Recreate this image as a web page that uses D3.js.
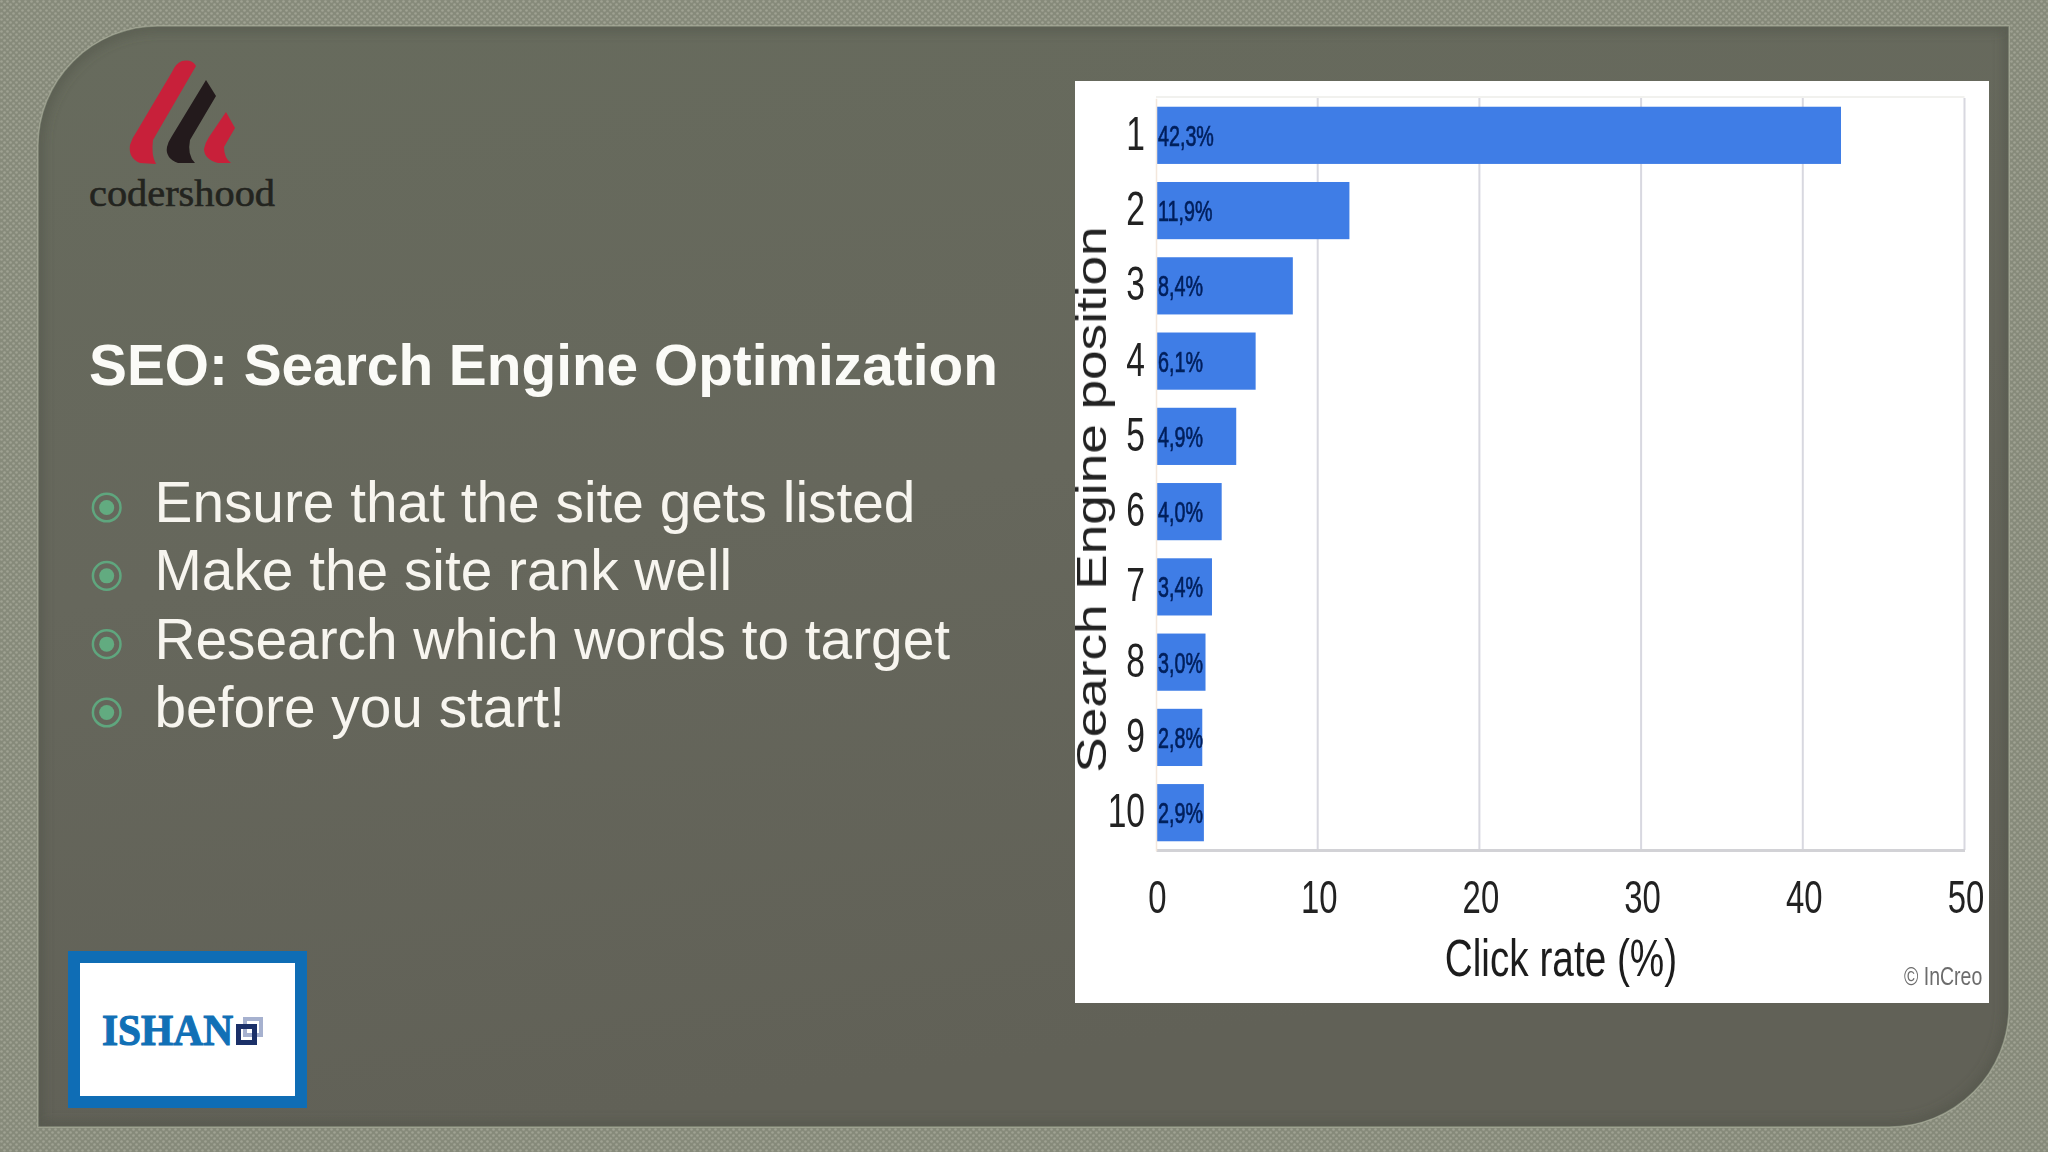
<!DOCTYPE html>
<html><head><meta charset="utf-8">
<script src="https://cdn.jsdelivr.net/npm/d3@7/dist/d3.min.js"></script>
<style>html,body{margin:0;padding:0;background:#8b8f80;overflow:hidden}svg{display:block}text{font-family:"Liberation Sans",Arial,sans-serif}</style>
</head><body><svg id="c" width="2048" height="1152"></svg>
<script>
const positions = ["1","2","3","4","5","6","7","8","9","10"];
const clickRates = [42.3,11.9,8.4,6.1,4.9,4.0,3.4,3.0,2.8,2.9];
const barLabels = ["42,3%","11,9%","8,4%","6,1%","4,9%","4,0%","3,4%","3,0%","2,8%","2,9%"];
const xTicks = [0,10,20,30,40,50];
const slideTitle = "SEO: Search Engine Optimization";
const bulletLines = ["Ensure that the site gets listed","Make the site rank well","Research which words to target","before you start!"];

const svg = d3.select("#c");
const defs = svg.append("defs");
const pat = defs.append("pattern").attr("id","dots").attr("width",6).attr("height",6).attr("patternUnits","userSpaceOnUse");
pat.append("rect").attr("width",6).attr("height",6).attr("fill","#868a7a");
pat.append("circle").attr("cx",1.5).attr("cy",1.5).attr("r",1.3).attr("fill","#9fa292");
pat.append("circle").attr("cx",4.5).attr("cy",4.5).attr("r",1.3).attr("fill","#9fa292");
const grad = defs.append("linearGradient").attr("id","panel").attr("x1",0).attr("y1",0).attr("x2",0.25).attr("y2",1);
grad.append("stop").attr("offset",0).attr("stop-color","#676b5d");
grad.append("stop").attr("offset",0.5).attr("stop-color","#66675c");
grad.append("stop").attr("offset",1).attr("stop-color","#616157");
defs.append("filter").attr("id","soft").append("feGaussianBlur").attr("stdDeviation",0.7);
defs.append("filter").attr("id","edge").append("feGaussianBlur").attr("stdDeviation",6);

svg.append("rect").attr("width",2048).attr("height",1152).attr("fill","url(#dots)");
const px0=38, py0=26, px1=2009, py1=1127, rad=120;
const panelPath = `M${px0},${py1}V${py0+rad}A${rad},${rad} 0 0 1 ${px0+rad},${py0}H${px1}V${py1-rad}A${rad},${rad} 0 0 1 ${px1-rad},${py1}Z`;
defs.append("clipPath").attr("id","pclip").append("path").attr("d",panelPath);
svg.append("path").attr("d",panelPath).attr("fill","url(#panel)").attr("stroke","#a5a997").attr("stroke-width",1.5);
svg.append("path").attr("d",panelPath).attr("fill","none").attr("stroke","#4d4f43").attr("stroke-opacity",0.55).attr("stroke-width",10)
  .attr("filter","url(#edge)").attr("clip-path","url(#pclip)");

// logo
const logo = svg.append("g");
logo.append("path").attr("fill","#c8203a").attr("d","M182,61 Q192,59 196,66 L153,140 Q151,155 156,164 L140,163 Q128,158 130,145 Q132,138 137,131 L172,72 Q176,63 182,61Z");
logo.append("path").attr("fill","#231a1c").attr("d","M206,80 L216,96 L190,140 Q187,155 195,163 L178,163 Q165,158 167,147 Q168,142 172,136Z");
logo.append("path").attr("fill","#c8203a").attr("d","M226,112 L235,128 L224,147 Q224,158 231,163 L218,163 Q204,159 204,149 Q205,143 209,137Z");
logo.append("text").attr("x",89).attr("y",206).attr("textLength",186).attr("lengthAdjust","spacingAndGlyphs")
  .style("font-family","'Liberation Serif',serif").attr("font-size",38).attr("fill","#23241f").attr("stroke","#23241f").attr("stroke-width",0.6).text("codershood");

// left text
svg.append("text").attr("x",89).attr("y",385).attr("font-size",56.8).attr("font-weight","bold").attr("fill","#fbfbf7").text(slideTitle);
const ly = d3.scalePoint().domain(bulletLines).range([522,727]);
const lines = svg.append("g").selectAll("g").data(bulletLines).join("g").attr("transform",d=>`translate(0,${ly(d)})`);
lines.append("circle").attr("cx",106.7).attr("cy",-14.5).attr("r",13.8).attr("fill","none").attr("stroke","#5fa67e").attr("stroke-width",2.5);
lines.append("circle").attr("cx",106.7).attr("cy",-14.5).attr("r",7.5).attr("fill","#62ab80");
lines.append("text").attr("x",154.5).attr("y",0).attr("font-size",56.8).attr("fill","#f7f5ef").text(d=>d);

// chart image area
svg.append("rect").attr("x",1075).attr("y",81).attr("width",914).attr("height",922).attr("fill","#fff");
const x = d3.scaleLinear().domain([0,50]).range([1156,1964.5]);
const y = d3.scaleBand().domain(positions).range([98.2,850.8]).paddingInner(0.24).paddingOuter(0.12);
const g = svg.append("g");
// grid
g.append("g").selectAll("line").data(xTicks.slice(1)).join("line")
  .attr("x1",d=>x(d)).attr("x2",d=>x(d)).attr("y1",98).attr("y2",850).attr("stroke","#d8d8e0").attr("stroke-width",2);
g.append("line").attr("x1",1156).attr("x2",1964.5).attr("y1",97).attr("y2",97).attr("stroke","#f1f1ee").attr("stroke-width",2);
// bars
g.append("g").selectAll("rect").data(positions).join("rect")
  .attr("x",x(0)).attr("y",d=>y(d)-0.5).attr("height",y.bandwidth())
  .attr("width",(d,i)=>x(clickRates[i])-x(0)+1).attr("fill","#3f7de6");
const soft = g.append("g").attr("filter","url(#soft)");
soft.append("g").selectAll("text").data(positions).join("text")
  .attr("transform",d=>`translate(1158,${y(d)+y.bandwidth()/2+10}) scale(.68,1)`)
  .attr("font-size",29).attr("fill","#06205c").attr("stroke","#06205c").attr("stroke-width",0.7).text((d,i)=>barLabels[i]);
// axes
const ax = g.append("g").attr("transform","translate(0,850)").call(d3.axisBottom(x).tickValues(xTicks).tickSize(0));
ax.select(".domain").attr("stroke","#d2d2d6").attr("stroke-width",3);
ax.selectAll("text").attr("y",0).attr("dy",0).attr("font-size",47).attr("fill","#222").attr("text-anchor","middle")
  .style("font-family","'Liberation Sans'").attr("transform","translate(1,63) scale(.7,1)").attr("filter","url(#soft)");
const ay = g.append("g").attr("transform","translate(1156,0)").call(d3.axisLeft(y).tickSize(0));
ay.select(".domain").attr("stroke","#f3e7dc").attr("stroke-width",1.5);
ay.selectAll("text").attr("x",0).attr("dy",0).attr("font-size",48).attr("fill","#222").attr("text-anchor","end")
  .style("font-family","'Liberation Sans'").attr("transform","translate(-11,14) scale(.7,1)").attr("filter","url(#soft)");
soft.append("text").attr("transform","translate(1561,976) scale(.745,1)").attr("text-anchor","middle")
  .attr("font-size",52).attr("fill","#1c1c1c").text("Click rate (%)");
soft.append("text").attr("transform","translate(1106,499.5) rotate(-90) scale(1.265,1)").attr("text-anchor","middle")
  .attr("font-size",42).attr("fill","#222").text("Search Engine position");
soft.append("text").attr("transform","translate(1904,985) scale(.78,1)").attr("font-size",25).attr("fill","#6c6c6c").text("© InCreo");

// ishan
const ish = svg.append("g");
ish.append("rect").attr("x",74).attr("y",957).attr("width",227).attr("height",145).attr("fill","#fff").attr("stroke","#0f6db5").attr("stroke-width",12);
ish.append("text").attr("x",102).attr("y",1045).attr("textLength",131).attr("lengthAdjust","spacingAndGlyphs")
  .style("font-family","'Liberation Serif',serif").attr("font-weight","bold").attr("font-size",45).attr("fill","#1170b6").attr("stroke","#1170b6").attr("stroke-width",1.2).text("ISHAN");
ish.append("rect").attr("x",245).attr("y",1019).attr("width",16).attr("height",16).attr("fill","none").attr("stroke","#a6b1cf").attr("stroke-width",4);
ish.append("rect").attr("x",238.5).attr("y",1026.5).attr("width",16).attr("height",16).attr("fill","none").attr("stroke","#1b3068").attr("stroke-width",5);
</script></body></html>
